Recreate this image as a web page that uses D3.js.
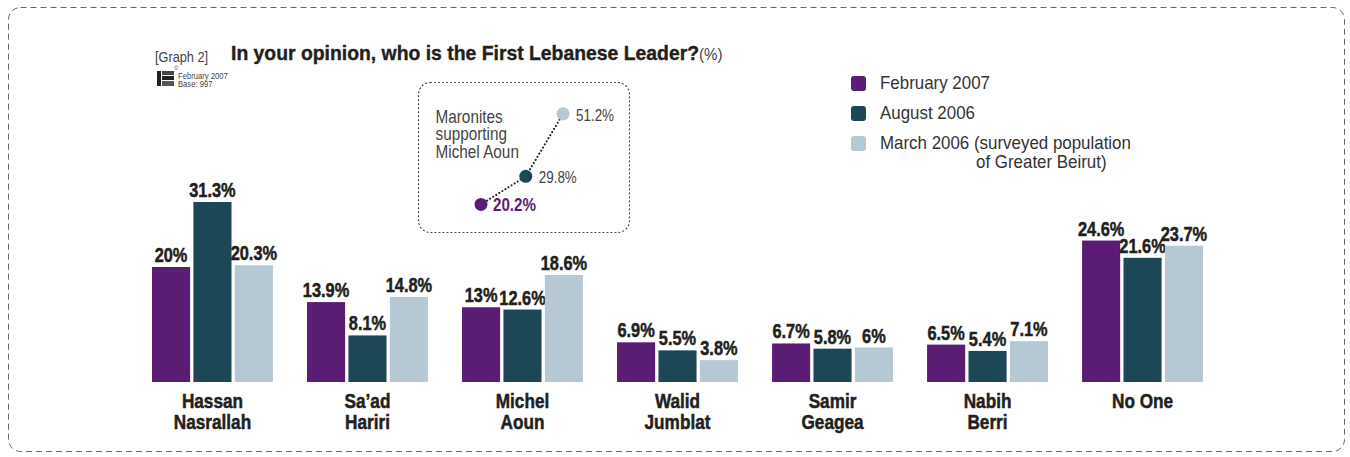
<!DOCTYPE html>
<html><head><meta charset="utf-8">
<script src="https://cdn.jsdelivr.net/npm/d3@7"></script>
<style>
html,body{margin:0;padding:0;background:#fff;}
svg{display:block;}
</style></head>
<body>
<svg id="chart" width="1350" height="457"></svg>
<script>
const categories = [["Hassan","Nasrallah"],["Sa\u2019ad","Hariri"],["Michel","Aoun"],["Walid","Jumblat"],["Samir","Geagea"],["Nabih","Berri"],["No One"]];
const seriesNames = ["February 2007","August 2006","March 2006 (surveyed population"];
const feb2007 = [20, 13.9, 13, 6.9, 6.7, 6.5, 24.6];
const aug2006 = [31.3, 8.1, 12.6, 5.5, 5.8, 5.4, 21.6];
const mar2006 = [20.3, 14.8, 18.6, 3.8, 6, 7.1, 23.7];
const insetDates = ["2007-02-01","2006-08-01","2006-03-01"];
const insetValues = [20.2, 29.8, 51.2];

const colors = ["#5b1d73","#1b4757","#b6c8d4"];
const textCol = "#231f20";
const fam = "'Liberation Sans',Arial,sans-serif";

const svg = d3.select("#chart");

// condensed text helper: horizontal scaling of a regular sans
function ctext(parent, x, y, str, o){
  const g = parent.append("g").attr("transform",`translate(${x},${y}) scale(${o.sx||0.85},1)`);
  const t = g.append("text").attr("x",0).attr("y",0).attr("font-family",fam)
    .attr("font-size",o.size||16).attr("font-weight",o.weight||"normal")
    .attr("fill",o.fill||textCol).attr("text-anchor",o.anchor||"start");
  if (o.heavy) t.attr("stroke",o.fill||textCol).attr("stroke-width",o.heavy);
  if (str !== null) t.text(str);
  return t;
}

// outer dashed border
svg.append("rect").attr("x",8.5).attr("y",7.5).attr("width",1336).attr("height",444)
  .attr("rx",12).attr("fill","none").attr("stroke","#666").attr("stroke-width",1)
  .attr("stroke-dasharray","6,4");

// title
ctext(svg,155,62,"[Graph 2]",{size:15,sx:0.85,fill:"#444"});
const t = ctext(svg,231,59.5,null,{size:20.5,sx:0.945,weight:"bold"});
t.append("tspan").attr("stroke",textCol).attr("stroke-width",0.4).text("In your opinion, who is the First Lebanese Leader?");
t.append("tspan").attr("font-size",16).attr("font-weight","normal").attr("fill","#444").text("(%)");

// logo
const lg = svg.append("g").attr("transform","translate(157,70)");
lg.append("rect").attr("x",0).attr("y",1).attr("width",4).attr("height",15).attr("fill","#222");
lg.append("rect").attr("x",5).attr("y",1).attr("width",12).attr("height",4).attr("fill","#444");
lg.append("rect").attr("x",5).attr("y",6).attr("width",12).attr("height",4).attr("fill","#222");
lg.append("rect").attr("x",5).attr("y",11).attr("width",12).attr("height",5).attr("fill","#555");
lg.append("text").attr("x",17).attr("y",0).attr("font-size",6).attr("font-family",fam).attr("fill","#333").text("\u00a9");
ctext(svg,178,79,"February 2007",{size:8.5,sx:0.9,fill:"#444"});
ctext(svg,178,87,"Base: 997",{size:8.5,sx:0.9,fill:"#444"});

// scales
const y = d3.scaleLinear().domain([0, 35]).range([382, 382 - 35*5.75]);
const x0 = d3.scaleBand().domain(d3.range(categories.length)).range([152, 1203]).paddingInner(0.22).paddingOuter(0);
const x1 = d3.scaleBand().domain([0,1,2]).range([0, x0.bandwidth()]).paddingInner(0.08);
const series = [feb2007, aug2006, mar2006];
const fmt = v => (Math.round(v*10)/10).toString() + "%";

const groups = svg.append("g").selectAll("g").data(categories).join("g")
  .attr("transform",(d,i)=>`translate(${x0(i)},0)`);
groups.each(function(c,i){
  const g = d3.select(this);
  series.forEach((s,k)=>{
    g.append("rect").attr("x",x1(k)).attr("y",y(s[i])).attr("width",x1.bandwidth())
      .attr("height",y(0)-y(s[i])).attr("fill",colors[k]);
    ctext(g, x1(k)+x1.bandwidth()/2, y(s[i])-5, fmt(s[i]),
      {size:19.5,sx:0.84,weight:"bold",anchor:"middle",heavy:0.5});
  });
});

// category axis
const axis = svg.append("g").attr("transform","translate(0,382)")
  .call(d3.axisBottom(x0).tickSize(0).tickFormat(""));
axis.select(".domain").remove();
axis.selectAll(".tick").each(function(i){
  const tick = d3.select(this);
  categories[i].forEach((line,j)=>{
    ctext(tick, 0, 26+j*21, line, {size:20,sx:0.86,weight:"bold",anchor:"middle",heavy:0.5});
  });
});

// legend
const legY = [76, 106, 136];
seriesNames.forEach((n,k)=>{
  svg.append("rect").attr("x",851).attr("y",legY[k]).attr("width",15).attr("height",15).attr("rx",3)
    .attr("fill",colors[k]);
  ctext(svg,880,legY[k]+13,n,{size:18,sx:0.94,fill:"#333"});
});
ctext(svg,976,168,"of Greater Beirut)",{size:18,sx:0.94,fill:"#333"});

// inset
svg.append("rect").attr("x",418.5).attr("y",82.5).attr("width",211).attr("height",150).attr("rx",12)
  .attr("fill","none").attr("stroke","#444").attr("stroke-width",1.2).attr("stroke-dasharray","1,3")
  .attr("stroke-linecap","round");
const ins = svg.append("g");
["Maronites","supporting","Michel Aoun"].forEach((l,j)=>{
  ctext(ins,435.5,122.5+j*17.5,l,{size:17.5,sx:0.875,fill:"#444"});
});
const parse = d3.timeParse("%Y-%m-%d");
const ix = d3.scaleTime().domain([parse("2006-03-01"), parse("2007-02-01")]).range([563, 481]);
const iy = d3.scaleLinear().domain([20, 52]).range([205, 111.5]);
const pts = insetDates.map((d,i)=>({x:ix(parse(d)), y:iy(insetValues[i]), v:insetValues[i], k:i}));
ins.append("path").attr("d",d3.line().x(d=>d.x).y(d=>d.y)(pts)).attr("fill","none")
  .attr("stroke","#222").attr("stroke-width",2).attr("stroke-dasharray","0.1,3.5").attr("stroke-linecap","round");
pts.forEach(p=>{
  ins.append("circle").attr("cx",p.x).attr("cy",p.y).attr("r",6.5).attr("fill",colors[p.k]);
  ctext(ins, p.x+(p.k===0?12:13), p.y+7, p.v.toFixed(1)+"%",
    {size:p.k===0?18.5:17, sx:p.k===0?0.82:0.79, weight:p.k===0?"bold":"normal",
     fill:p.k===0?colors[0]:"#444"});
});
</script>
</body></html>
